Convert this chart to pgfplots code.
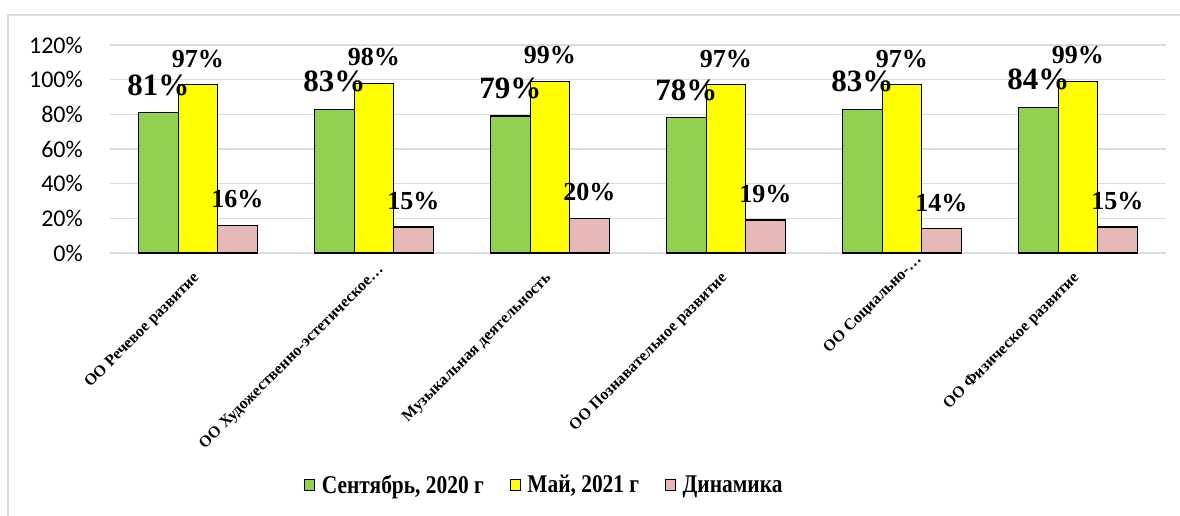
\documentclass[border=0pt]{standalone}
\usepackage{pgfplots}
\pgfplotsset{compat=1.18}
\usepackage{fontspec}
\setmainfont{Liberation Serif}
\newfontfamily\calibri{Carlito}
\newfontfamily\condensed[FakeStretch=0.84]{Liberation Serif}
\definecolor{cgreen}{HTML}{92D050}
\definecolor{cyellow}{HTML}{FFFF00}
\definecolor{cpink}{HTML}{E6B9B8}
\definecolor{gridc}{HTML}{D9DCE1}
\pgfplotsset{mylegend/.style={legend image code/.code={\draw[##1, line width=1pt] (0pt,-5.5pt) rectangle (10pt,5.5pt);}}}
\begin{document}
\begin{tikzpicture}
\useasboundingbox (0,0) rectangle (1180pt,516pt);
\draw[color=gridc, line width=1.5pt] (8pt,0pt) -- (8pt,501pt) -- (1180pt,501pt);
\begin{axis}[
  at={(110pt,263pt)}, anchor=south west,
  scale only axis, width=1056pt, height=208pt,
  xmin=-0.5, xmax=5.5, ymin=0, ymax=120,
  bar width=39.5pt,
  xtick={0,1,2,3,4,5},
  xticklabels={ОО Речевое развитие, {ОО Художественно-эстетическое…\kern-12pt}, Музыкальная деятельность, ОО Познавательное развитие, {ОО Социально-…\kern-26pt}, ОО Физическое развитие},
  ytick={0,20,...,120},
  yticklabel={\pgfmathprintnumber{\tick}\%},
  ymajorgrids, grid style={gridc, line width=1.5pt},
  axis line style={draw=none},
  major tick length=0pt, tick style={draw=none},
  /pgf/number format/assume math mode=true,
  yticklabel style={font=\calibri\fontsize{24}{24}\selectfont, anchor=east, inner sep=0pt, xshift=-27pt},
  xticklabel style={font=\bfseries\fontsize{16}{16}\selectfont, xshift=-6pt, yshift=-18pt, rotate=45, anchor=north east, inner sep=0pt},
  legend columns=-1,
  legend style={at={(axis description cs:0.181,-1.115)}, anchor=west, draw=none, fill=none,
    font=\condensed\bfseries\fontsize{25.5}{25.5}\selectfont,
    nodes={inner sep=0pt},
    /tikz/every odd column/.append style={column sep=6.5pt},
    /tikz/every even column/.append style={column sep=26pt}},
  clip=false,
]
\addplot[ybar, bar shift=-39.5pt, fill=cgreen, draw=black, line width=1.2pt, mylegend]
  coordinates {(0,81) (1,83) (2,79) (3,78) (4,83) (5,84)};
\addlegendentry{Сентябрь, 2020 г}
\addplot[ybar, bar shift=0pt, fill=cyellow, draw=black, line width=1.2pt, mylegend]
  coordinates {(0,97) (1,98) (2,99) (3,97) (4,97) (5,99)};
\addlegendentry{Май, 2021 г}
\addplot[ybar, bar shift=39.5pt, fill=cpink, draw=black, line width=1.2pt, mylegend]
  coordinates {(0,16) (1,15) (2,20) (3,19) (4,14) (5,15)};
\addlegendentry{Динамика}
% labels
\addplot[draw=none, mark=none, forget plot,
  nodes near coords={\pgfmathprintnumber{\pgfplotspointmeta}\%},
  every node near coord/.append style={anchor=base, xshift=-39.5pt, yshift=17.5pt, inner sep=0pt, text=black, font=\bfseries\fontsize{31}{31}\selectfont}]
  coordinates {(0,81) (1,83) (2,79) (3,78) (4,83) (5,84)};
\addplot[draw=none, mark=none, forget plot,
  nodes near coords={\pgfmathprintnumber{\pgfplotspointmeta}\%},
  every node near coord/.append style={anchor=base, yshift=17.5pt, inner sep=0pt, text=black, font=\bfseries\fontsize{26}{26}\selectfont}]
  coordinates {(0,97) (1,98) (2,99) (3,97) (4,97) (5,99)};
\addplot[draw=none, mark=none, forget plot,
  nodes near coords={\pgfmathprintnumber{\pgfplotspointmeta}\%},
  every node near coord/.append style={anchor=base, xshift=39.5pt, yshift=17.5pt, inner sep=0pt, text=black, font=\bfseries\fontsize{26}{26}\selectfont}]
  coordinates {(0,16) (1,15) (2,20) (3,19) (4,14) (5,15)};
\end{axis}
\end{tikzpicture}
\end{document}
